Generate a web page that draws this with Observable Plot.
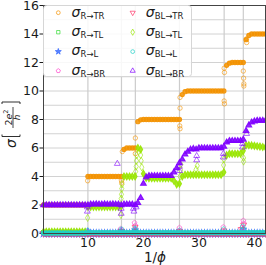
<!DOCTYPE html>
<html><head><meta charset="utf-8">
<script src="https://cdn.jsdelivr.net/npm/d3@7"></script>
<script src="https://cdn.jsdelivr.net/npm/@observablehq/plot@0.6"></script>
<style>
html,body{margin:0;padding:0;background:#fff;}
#wrap{position:relative;width:266px;height:265px;overflow:hidden;font-family:"DejaVu Sans",sans-serif;}
#wrap svg{position:absolute;left:0;top:0;}
</style></head><body><div id="wrap"></div>
<script>
// sampling grid of 1/phi
const invPhi = [2,2.5,3,3.5,4,4.5,5,5.5,6,6.5,7,7.5,8,8.5,9,9.5,10,10.5,11,11.5,12,12.5,13,13.5,14,14.5,15,15.5,16,16.5,17,17.5,18,18.5,19,19.5,20,20.5,21,21.5,22,22.5,23,23.5,24,24.5,25,25.5,26,26.5,27,27.5,28,28.5,29,29.5,30,30.5,31,31.5,32,32.5,33,33.5,34,34.5,35,35.5,36,36.5,37,37.5,38,38.5,39,39.5,40,40.5,41,41.5,42];

const sR_TR = [2,2,2,2,2,2,2,2,2,2,2,2,2,2,2,2,
  4,4,4,4,4,4,4,4,4,4,4,4,4,
  5.9,6,6,6,6,
  7.85,7.98,
  8,8,8,8,8,8,8,8,8,8,8,8,8,8,
  9.75,9.95,
  10,10,10,10,10,10,10,10,10,10,10,10,10,10,
  11.8,11.95,
  12,12,12,12,12,
  13.6,13.9,
  14,14,14,14,14,14];
const sR_TR_extra = [[9.95,3.7],[16.05,3.7],[16.1,3.55],[16.2,5.75],[18.55,6.7],[18.55,5.6],[26.55,7.55],[26.6,7.35],[26.6,9.55],[26.6,8.8],[34.55,9.3],[34.6,9.1],[34.55,11.6],[34.6,11.3],[38.0,11.4],[38.05,10.9],[38.1,10.5],[38.1,10.35],[38.6,13.66],[38.6,13.4]];

const sR_TL = [0.08,0.08,0.08,0.08,0.08,0.08,0.08,0.08,0.08,0.08,0.08,0.08,0.08,0.08,0.08,0.08,0.03,0.02,0.02,0.02,0.02,0.02,0.02,0.02,0.02,0.02,0.02,0.02,0.02,0.02,0.02,0.02,0.02,0.02,0.02,0.02,0.02,0.02,0.02,0.02,0.02,0.02,0.02,0.02,0.02,0.02,0.02,0.02,0.02,0.02,0.02,0.02,0.02,0.02,0.02,0.02,0.02,0.02,0.02,0.02,0.02,0.02,0.02,0.02,0.02,0.02,0.02,0.02,0.02,0.02,0.02,0.02,0.02,0.02,0.02,0.02,0.02,0.02,0.02,0.02,0.02];
const sR_TL_extra = [[16.0,0.12],[18.5,0.15]];

const sR_L = [0,0,0,0,0,0,0,0,0,0,0,0,0,0,0,0,0,0,0,0,0,0,0,0,0,0,0,0,0,0,0,0,0,0,0,0,0,0,0,0,0,0,0,0,0,0,0,0,0,0,0,0,0,0,0,0,0,0,0,0,0,0,0,0,0,0,0,0,0,0,0,0,0,0,0,0,0,0,0,0,0];
const sR_L_extra = [[10.0,0.15],[16.0,0.2],[18.5,0.25],[38.0,0.3]];

const sR_BR = [0,0,0,0,0,0,0,0,0,0,0,0,0,0,0,0,0,0,0,0,0,0,0,0,0,0,0,0,0,0,0,0,0,0,0,0,0,0,0,0,0,0,0,0,0,0,0,0,0,0,0,0,0,0,0,0,0,0,0,0,0,0,0,0,0,0,0,0,0,0,0,0,0,0,0,0,0,0,0,0,0];
const sR_BR_extra = [[9.95,0.12],[15.9,0.33],[16.0,0.2],[18.4,0.75],[18.55,0.55],[26.5,0.4],[26.55,0.22],[34.4,0.45],[37.8,0.4],[38.0,0.9],[38.1,0.7]];

const sBL_TR = [0,0,0,0,0,0,0,0,0,0,0,0,0,0,0,0,0,0,0,0,0,0,0,0,0,0,0,0,0,0,0,0,0,0,0,0,0,0,0,0,0,0,0,0,0,0,0,0,0,0,0,0,0,0,0,0,0,0,0,0,0,0,0,0,0,0,0,0,0,0,0,0,0,0,0,0,0,0,0,0,0];
const sBL_TR_extra = [[16.0,0.15],[18.5,0.45],[26.5,0.15],[34.5,0.2],[37.6,0.3],[38.05,0.6]];

const sBL_TL = [0.12,0.12,0.12,0.12,0.12,0.12,0.12,0.12,0.12,0.12,0.12,0.12,0.12,0.12,0.12,0.12,
  1.88,
  1.87,1.87,1.87,1.87,1.87,1.87,1.87,1.87,1.87,1.87,1.87,
  1.9,
  4,4,4,4,
  4,
  6,5.9,4.2,3.9,
  3.88,3.88,3.88,3.88,3.88,3.88,3.88,3.88,3.88,
  3.7,3.45,3.5,4.0,
  4.12,4.12,4.12,4.12,4.12,4.12,4.12,4.12,4.12,4.12,4.12,4.12,4.12,4.12,
  4.3,5.5,
  5.6,5.6,5.6,5.6,5.6,
  5.8,
  6.2,6.2,6.18,6.15,6.12,6.1,6.07,6.05];
const sBL_TL_extra = [[9.95,1.1],[15.95,1.3],[16.0,2.45],[16.05,2.75],[16.1,3.15],[16.15,3.45],[18.6,4.35],[18.7,4.7],[18.75,5.1],[18.8,5.5],[19.5,5.5],[19.6,5.1],[19.7,4.65],[26.6,4.0],[26.7,4.45],[26.75,4.85],[29.5,4.5],[29.7,4.75],[34.45,4.8],[34.5,5.2],[38.05,5.3],[38.05,5.05]];

const sBL_L = [0.03,0.03,0.03,0.03,0.03,0.03,0.03,0.03,0.03,0.03,0.03,0.03,0.03,0.03,0.03,0.03,0.05,0.05,0.05,0.05,0.05,0.05,0.05,0.05,0.05,0.05,0.05,0.05,0.05,0.05,0.05,0.05,0.05,0.05,0.05,0.05,0.05,0.05,0.05,0.05,0.05,0.05,0.05,0.05,0.05,0.05,0.05,0.05,0.05,0.05,0.05,0.05,0.05,0.05,0.05,0.05,0.05,0.05,0.05,0.05,0.05,0.05,0.05,0.05,0.05,0.05,0.05,0.05,0.05,0.05,0.05,0.05,0.05,0.05,0.05,0.05,0.05,0.05,0.05,0.05,0.05];
const sBL_L_extra = [[9.95,0.2],[16.0,0.15],[16.05,0.3],[18.5,0.35],[18.55,0.2],[26.5,0.2],[34.45,0.3],[37.9,0.5],[38.0,0.3]];

const sBL_BR = [2,2,2,2,2,2,2,2,2,2,2,2,2,2,2,2,
  2,
  2.05,2.05,2.06,2.05,2.05,2.06,2.05,2.05,2.06,2.05,2.05,
  2,
  2.05,2.05,2.05,2.05,
  2,
  2.15,2.5,3.5,3.95,
  4.05,4.05,4.05,4.05,4.05,4.05,4.05,4.05,4.05,
  4.3,4.6,4.95,5.2,5.55,5.75,5.9,5.95,5.9,
  6,6,6,6,6,6,6,6,6,
  6.1,6.4,
  6.5,6.5,6.5,6.5,6.5,
  6.6,
  7.2,7.6,7.8,7.88,
  7.92,7.92,7.92,7.92];
const sBL_BR_extra = [[9.9,1.85],[9.9,1.55],[15.3,4.9],[16.0,1.75],[16.0,1.4],[18.2,1.75],[18.3,1.55],[18.7,1.85],[26.5,4.7],[26.5,4.4],[29.6,5.45],[29.6,5.15],[34.4,5.6],[34.4,5.35],[37.85,6.3],[37.85,6.05],[38.6,7.0]];

// vertical reference lines (1/phi of plateau transitions)
const vGrid = [10, 16.05, 18.55, 26.5, 34.55, 38];
const hGrid = [0,1,2,3,4,5,6,7,8,9,10,11,12,13,14,15,16];
const xTicks = [10,20,30,40];
const yTicks = [0,2,4,6,8,10,12,14,16];

// custom symbols
const pentagon = {draw(ctx, size){ const R = Math.sqrt(size/2.378); for(let k=0;k<5;k++){const a=-Math.PI/2+k*2*Math.PI/5; const px=R*Math.cos(a), py=R*Math.sin(a); k?ctx.lineTo(px,py):ctx.moveTo(px,py);} ctx.closePath(); }};
const triDown = {draw(ctx, size){ const R = Math.sqrt(size/1.299); ctx.moveTo(0,R); ctx.lineTo(-R*0.866,-R/2); ctx.lineTo(R*0.866,-R/2); ctx.closePath(); }};
const triUp = {draw(ctx, size){ const R = Math.sqrt(size/1.299); ctx.moveTo(0,-R); ctx.lineTo(R*0.866,R/2); ctx.lineTo(-R*0.866,R/2); ctx.closePath(); }};

const seriesNames = ["R→TR","R→TL","R→L","R→BR","BL→TR","BL→TL","BL→L","BL→BR"];
const seriesColors = ["#f39200","#33dd33","#3366ff","#ff44cc","#ff3366","#99e600","#1fd0c8","#8000ff"];
const seriesSymbols = ["circle","square","star",pentagon,triDown,"diamond","hexagon",triUp];
const seriesFilled = [false,false,true,false,false,false,false,false];
const seriesValues = [sR_TR,sR_TL,sR_L,sR_BR,sBL_TR,sBL_TL,sBL_L,sBL_BR];
const seriesExtra = [sR_TR_extra,sR_TL_extra,sR_L_extra,sR_BR_extra,sBL_TR_extra,sBL_TL_extra,sBL_L_extra,sBL_BR_extra];

const mainPts = ys => ys.map((y,i)=>({x: invPhi[i], y}));
const extraPts = extra => extra.map(([x,y])=>({x,y}));

const dotMarks = [];
seriesNames.forEach((n,i)=>{
  // dense plateau samples: overlapping markers form a solid band
  dotMarks.push(Plot.dot(mainPts(seriesValues[i]), {
    x:"x", y:"y", symbol: seriesSymbols[i], r: 2.1,
    stroke: seriesColors[i], strokeWidth: 1.1, strokeOpacity: 0.9,
    fill: seriesColors[i], fillOpacity: 0.85
  }));
  // scattered points at the transitions: open markers
  dotMarks.push(Plot.dot(extraPts(seriesExtra[i]), {
    x:"x", y:"y", symbol: seriesSymbols[i], r: 2.2,
    stroke: seriesColors[i], strokeWidth: 1, strokeOpacity: 0.6,
    fill: seriesFilled[i] ? seriesColors[i] : "none", fillOpacity: 0.6
  }));
});

const chart = Plot.plot({
  width: 266, height: 265,
  marginLeft: 43, marginRight: 1, marginTop: 5, marginBottom: 32,
  style: {fontFamily: "DejaVu Sans", fontSize: "12.5px", color: "#1a1a1a", background: "transparent"},
  x: {domain: [2, 42], ticks: xTicks, tickSize: 3.5, tickPadding: 1, label: null},
  y: {domain: [0, 16], ticks: yTicks, tickSize: 3.5, tickPadding: 1, label: null},
  marks: [
    Plot.gridY(hGrid, {stroke: "#d2d2d2", strokeOpacity: 1, strokeWidth: 1}),
    Plot.gridX(vGrid, {stroke: "#cccccc", strokeOpacity: 1, strokeWidth: 1.2}),
    ...dotMarks,
    Plot.frame({stroke: "#444", strokeWidth: 1})
  ]
});
const wrap = document.getElementById("wrap");
wrap.appendChild(chart);

// overlay: legend + axis titles
const NS = "http://www.w3.org/2000/svg";
const ov = document.createElementNS(NS, "svg");
ov.setAttribute("width", 266); ov.setAttribute("height", 265);
let html = "";
html += `<rect x="43.5" y="5.5" width="148" height="71" rx="3" fill="white" fill-opacity="0.85" stroke="#d6d6d6"/>`;
const rowY = [12.7, 32.2, 51.6, 70.8];
const colMarkX = [58.3, 132.7], colTextX = [71.5, 145.8];
seriesNames.forEach((n,i)=>{
  const c = Math.floor(i/4), r = i%4;
  const mx = colMarkX[c], my = rowY[r];
  const s = seriesSymbols[i];
  const type = typeof s === "string" ? {circle:d3.symbolCircle,square:d3.symbolSquare,star:d3.symbolStar,diamond:d3.symbolDiamond,hexagon:d3.symbolCircle}[s] : s;
  const p = d3.symbol(type, 1.9*1.9*Math.PI)();
  html += `<path transform="translate(${mx},${my})" d="${p}" stroke="${seriesColors[i]}" stroke-opacity="0.7" stroke-width="1" fill="${seriesFilled[i]?seriesColors[i]:'none'}" fill-opacity="0.8"/>`;
  html += `<text x="${colTextX[c]}" y="${my+3.8}" font-family="DejaVu Sans" fill="#1a1a1a"><tspan font-size="14" font-style="italic">σ</tspan><tspan font-size="8.5" dy="2">${n}</tspan></text>`;
});
html += `<text x="155" y="262" text-anchor="middle" font-family="DejaVu Sans" font-size="13.5" fill="#1a1a1a">1/<tspan font-style="italic">ϕ</tspan></text>`;
html += `<g transform="translate(0,148) rotate(-90)" font-family="DejaVu Sans" fill="#1a1a1a">
  <text x="0" y="16" font-size="14" font-style="italic">σ</text>
  <path d="M13.5,2 L11.5,2 L11.5,20 L13.5,20" fill="none" stroke="#1a1a1a" stroke-width="0.9"/>
  <text x="30.5" y="11.5" font-size="9.5" text-anchor="middle">2<tspan font-style="italic">e</tspan><tspan font-size="6.5" dy="-3.5">2</tspan></text>
  <line x1="20" x2="41" y1="13" y2="13" stroke="#1a1a1a" stroke-width="0.8"/>
  <text x="30.5" y="19.5" font-size="9" font-style="italic" text-anchor="middle">h</text>
  <path d="M44,2 L46,2 L46,20 L44,20" fill="none" stroke="#1a1a1a" stroke-width="0.9"/>
</g>`;
ov.innerHTML = html;
wrap.appendChild(ov);
</script>
</body></html>
